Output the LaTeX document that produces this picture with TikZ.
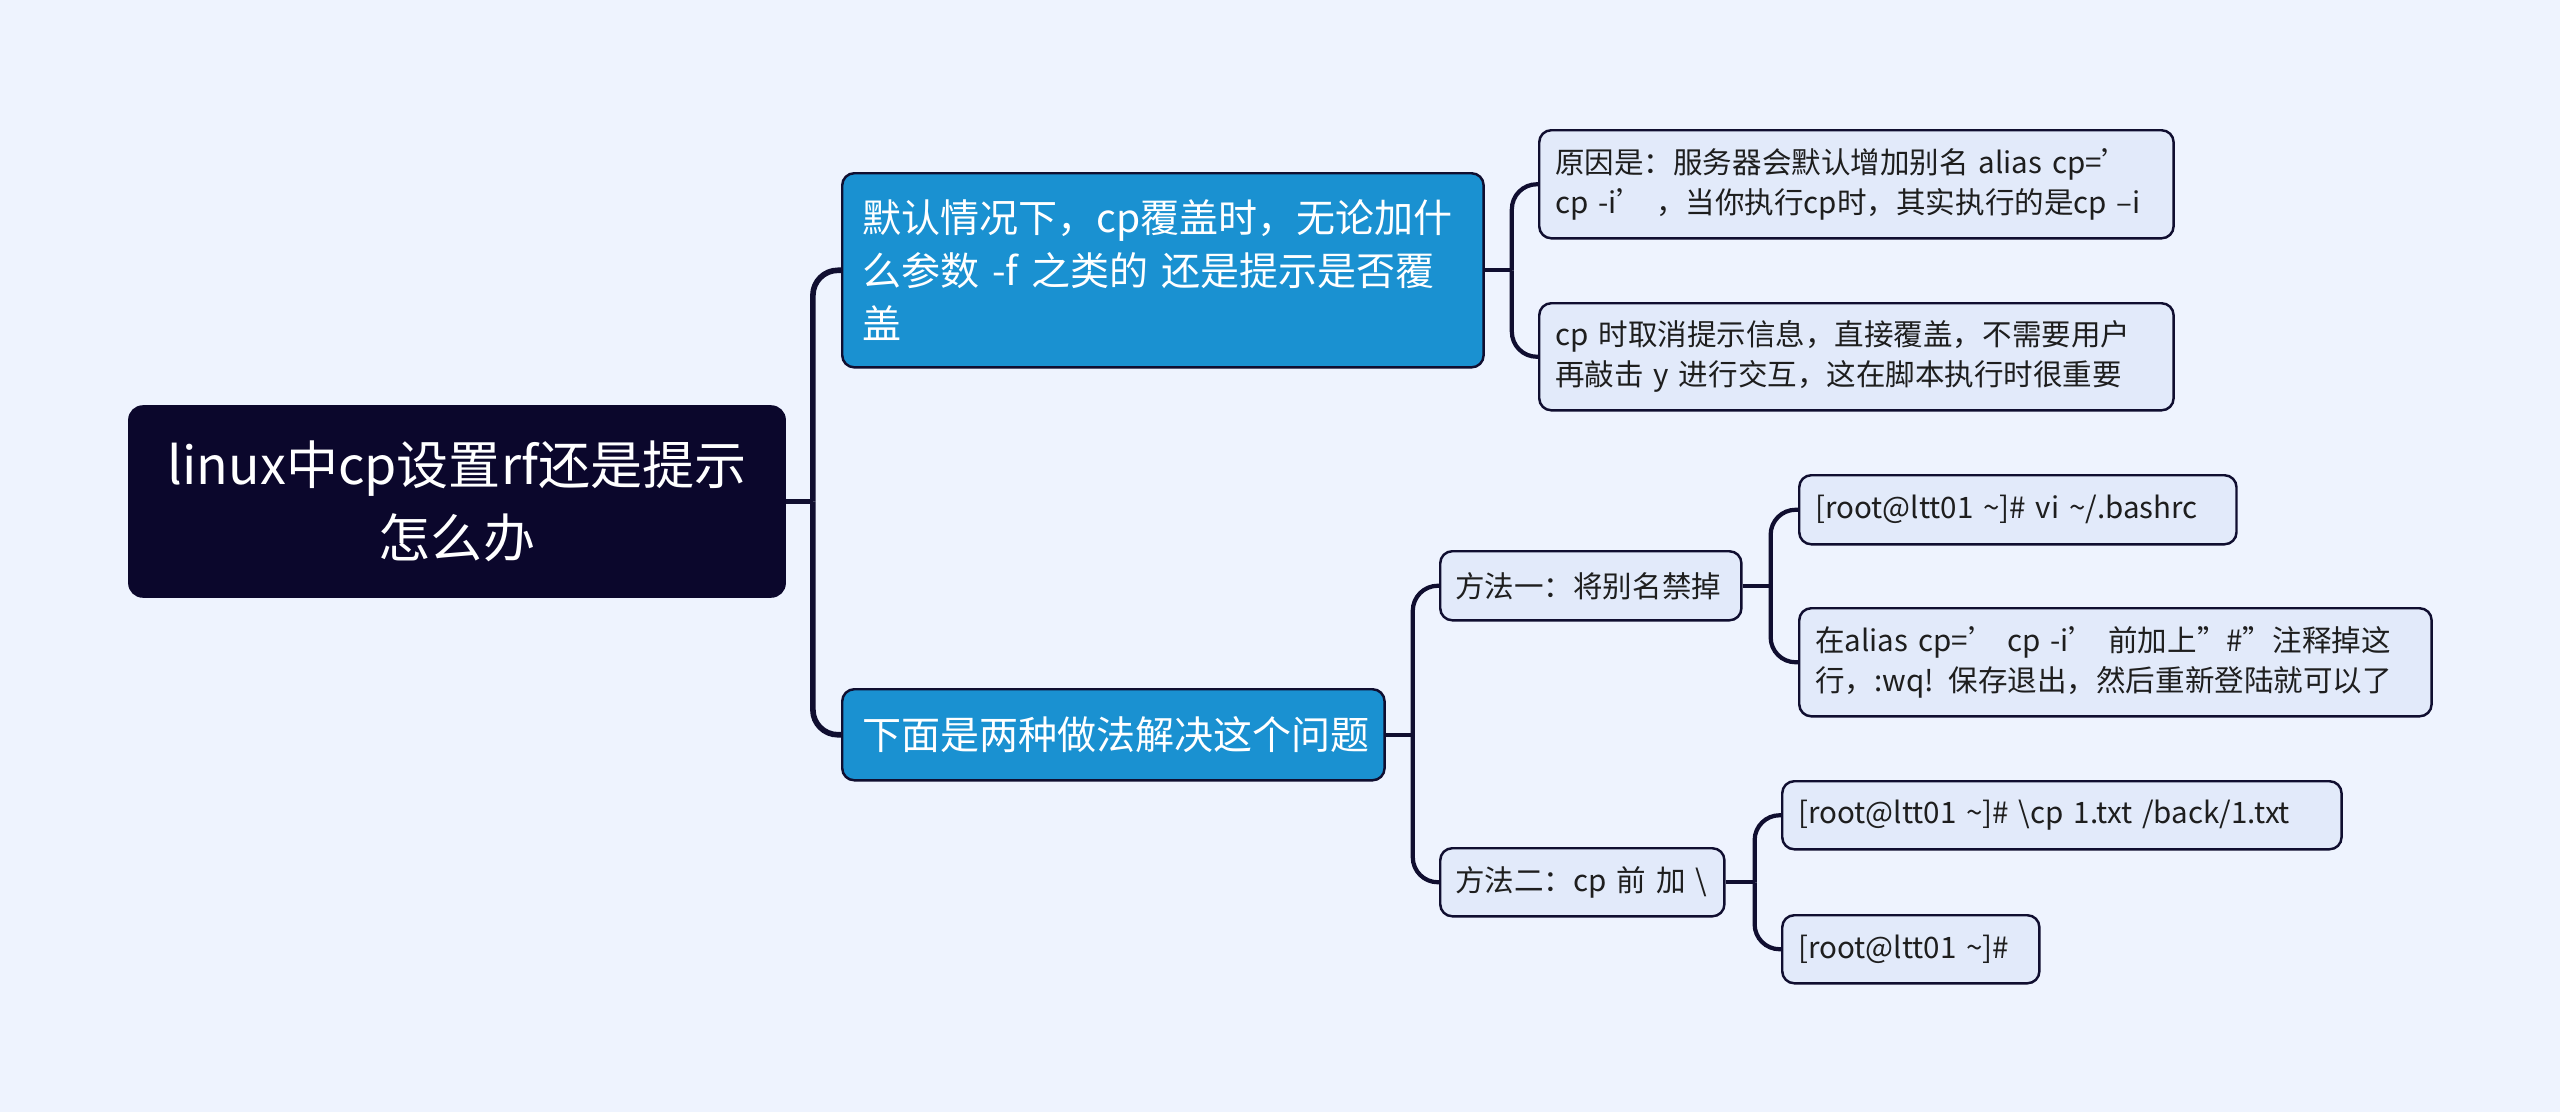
\documentclass[tikz,border=0pt]{standalone}
\usepackage{fontspec}
\setmainfont{Noto Sans CJK SC}
\definecolor{bgc}{RGB}{238,243,254}
\definecolor{rootc}{RGB}{11,7,44}
\definecolor{bluec}{RGB}{26,145,209}
\definecolor{leafc}{RGB}{226,234,250}
\definecolor{linec}{RGB}{16,14,48}
\definecolor{textc}{RGB}{30,30,30}
\begin{document}
\begin{tikzpicture}[x=0.01cm,y=-0.01cm,
  box/.style={draw=linec, line width=0.7pt, rounded corners=0.12cm, inner ysep=0pt, anchor=north west, align=left},
  rootbox/.style={fill=rootc, draw=rootc, rounded corners=0.14cm, text=white, align=center, inner sep=0pt,
    font=\fontsize{14.8}{20.8}\selectfont},
  bluebox/.style={box, fill=bluec, text=white, inner xsep=0.2cm, font=\fontsize{11.1}{15.1}\selectfont},
  leafbox/.style={box, fill=leafc, text=textc, inner xsep=0.16cm, font=\fontsize{8.4}{11.4}\selectfont},
  conn/.style={draw=linec, line width=1.2pt, rounded corners=0.25cm},
  rootconn/.style={conn, line width=1.6pt},
]
\fill[bgc] (0,0) rectangle (2560,1112);

\node[rootbox, minimum width=6.56cm, minimum height=1.91cm] (root) at (457,501.5)
  {linux中cp设置rf还是提示\\怎么办};

\node[bluebox, text width=6.01cm, minimum height=1.94cm] (b1) at (841,172)
  {默认情况下，cp覆盖时，无论加什\\么参数 -f 之类的 还是提示是否覆\\盖};
\node[bluebox, text width=5.02cm, minimum height=0.91cm] (b2) at (841,688)
  {\mbox{下面是两种做法解决这个问题}};

\node[leafbox, text width=6.02cm, minimum height=1.08cm] (l1) at (1538,129)
  {\mbox{原因是：服务器会默认增加别名 alias cp=’}\\\mbox{cp -i’ ，当你执行cp时，其实执行的是cp –i}};
\node[leafbox, text width=6.02cm, minimum height=1.07cm] (l2) at (1538,302)
  {\mbox{cp 时取消提示信息，直接覆盖，不需要用户}\\\mbox{再敲击 y 进行交互，这在脚本执行时很重要}};

\node[leafbox, text width=2.71cm, minimum height=0.69cm, inner xsep=0.15cm] (m1) at (1439,550)
  {\mbox{方法一：将别名禁掉}};
\node[leafbox, text width=2.54cm, minimum height=0.68cm, inner xsep=0.15cm] (m2) at (1439,847)
  {\mbox{方法二：cp 前 加 \textbackslash}};

\node[leafbox, text width=4.05cm, minimum height=0.69cm] (m1a) at (1798,474)
  {\mbox{{[}root@ltt01 \textasciitilde]\# vi \textasciitilde/.bashrc}};
\node[leafbox, text width=6.00cm, minimum height=1.08cm] (m1b) at (1798,607)
  {\mbox{在alias cp=’ cp -i’ 前加上”\#”注释掉这}\\\mbox{行，:wq! 保存退出，然后重新登陆就可以了}};
\node[leafbox, text width=5.27cm, minimum height=0.68cm] (m2a) at (1781,780)
  {\mbox{{[}root@ltt01 \textasciitilde]\# \textbackslash cp 1.txt /back/1.txt}};
\node[leafbox, text width=2.25cm, minimum height=0.68cm] (m2b) at (1781,914)
  {\mbox{{[}root@ltt01 \textasciitilde]\#}};

% connectors
\path (root.east) ++(27,0) coordinate (j0);
\draw[rootconn] (root.east) -- (j0);
\draw[rootconn] (j0) |- (b1.west);
\draw[rootconn] (j0) |- (b2.west);

\path (b1.east) ++(27,0) coordinate (j1);
\draw[conn] (b1.east) -- (j1);
\draw[conn] (j1) |- (l1.west);
\draw[conn] (j1) |- (l2.west);

\path (b2.east) ++(27,0) coordinate (j2);
\draw[conn] (b2.east) -- (j2);
\draw[conn] (j2) |- (m1.west);
\draw[conn] (j2) |- (m2.west);

\path (m1.east) ++(28,0) coordinate (j3);
\draw[conn] (m1.east) -- (j3);
\draw[conn] (j3) |- (m1a.west);
\draw[conn] (j3) |- (m1b.west);

\path (m2.east) ++(29,0) coordinate (j4);
\draw[conn] (m2.east) -- (j4);
\draw[conn] (j4) |- (m2a.west);
\draw[conn] (j4) |- (m2b.west);
\end{tikzpicture}
\end{document}
